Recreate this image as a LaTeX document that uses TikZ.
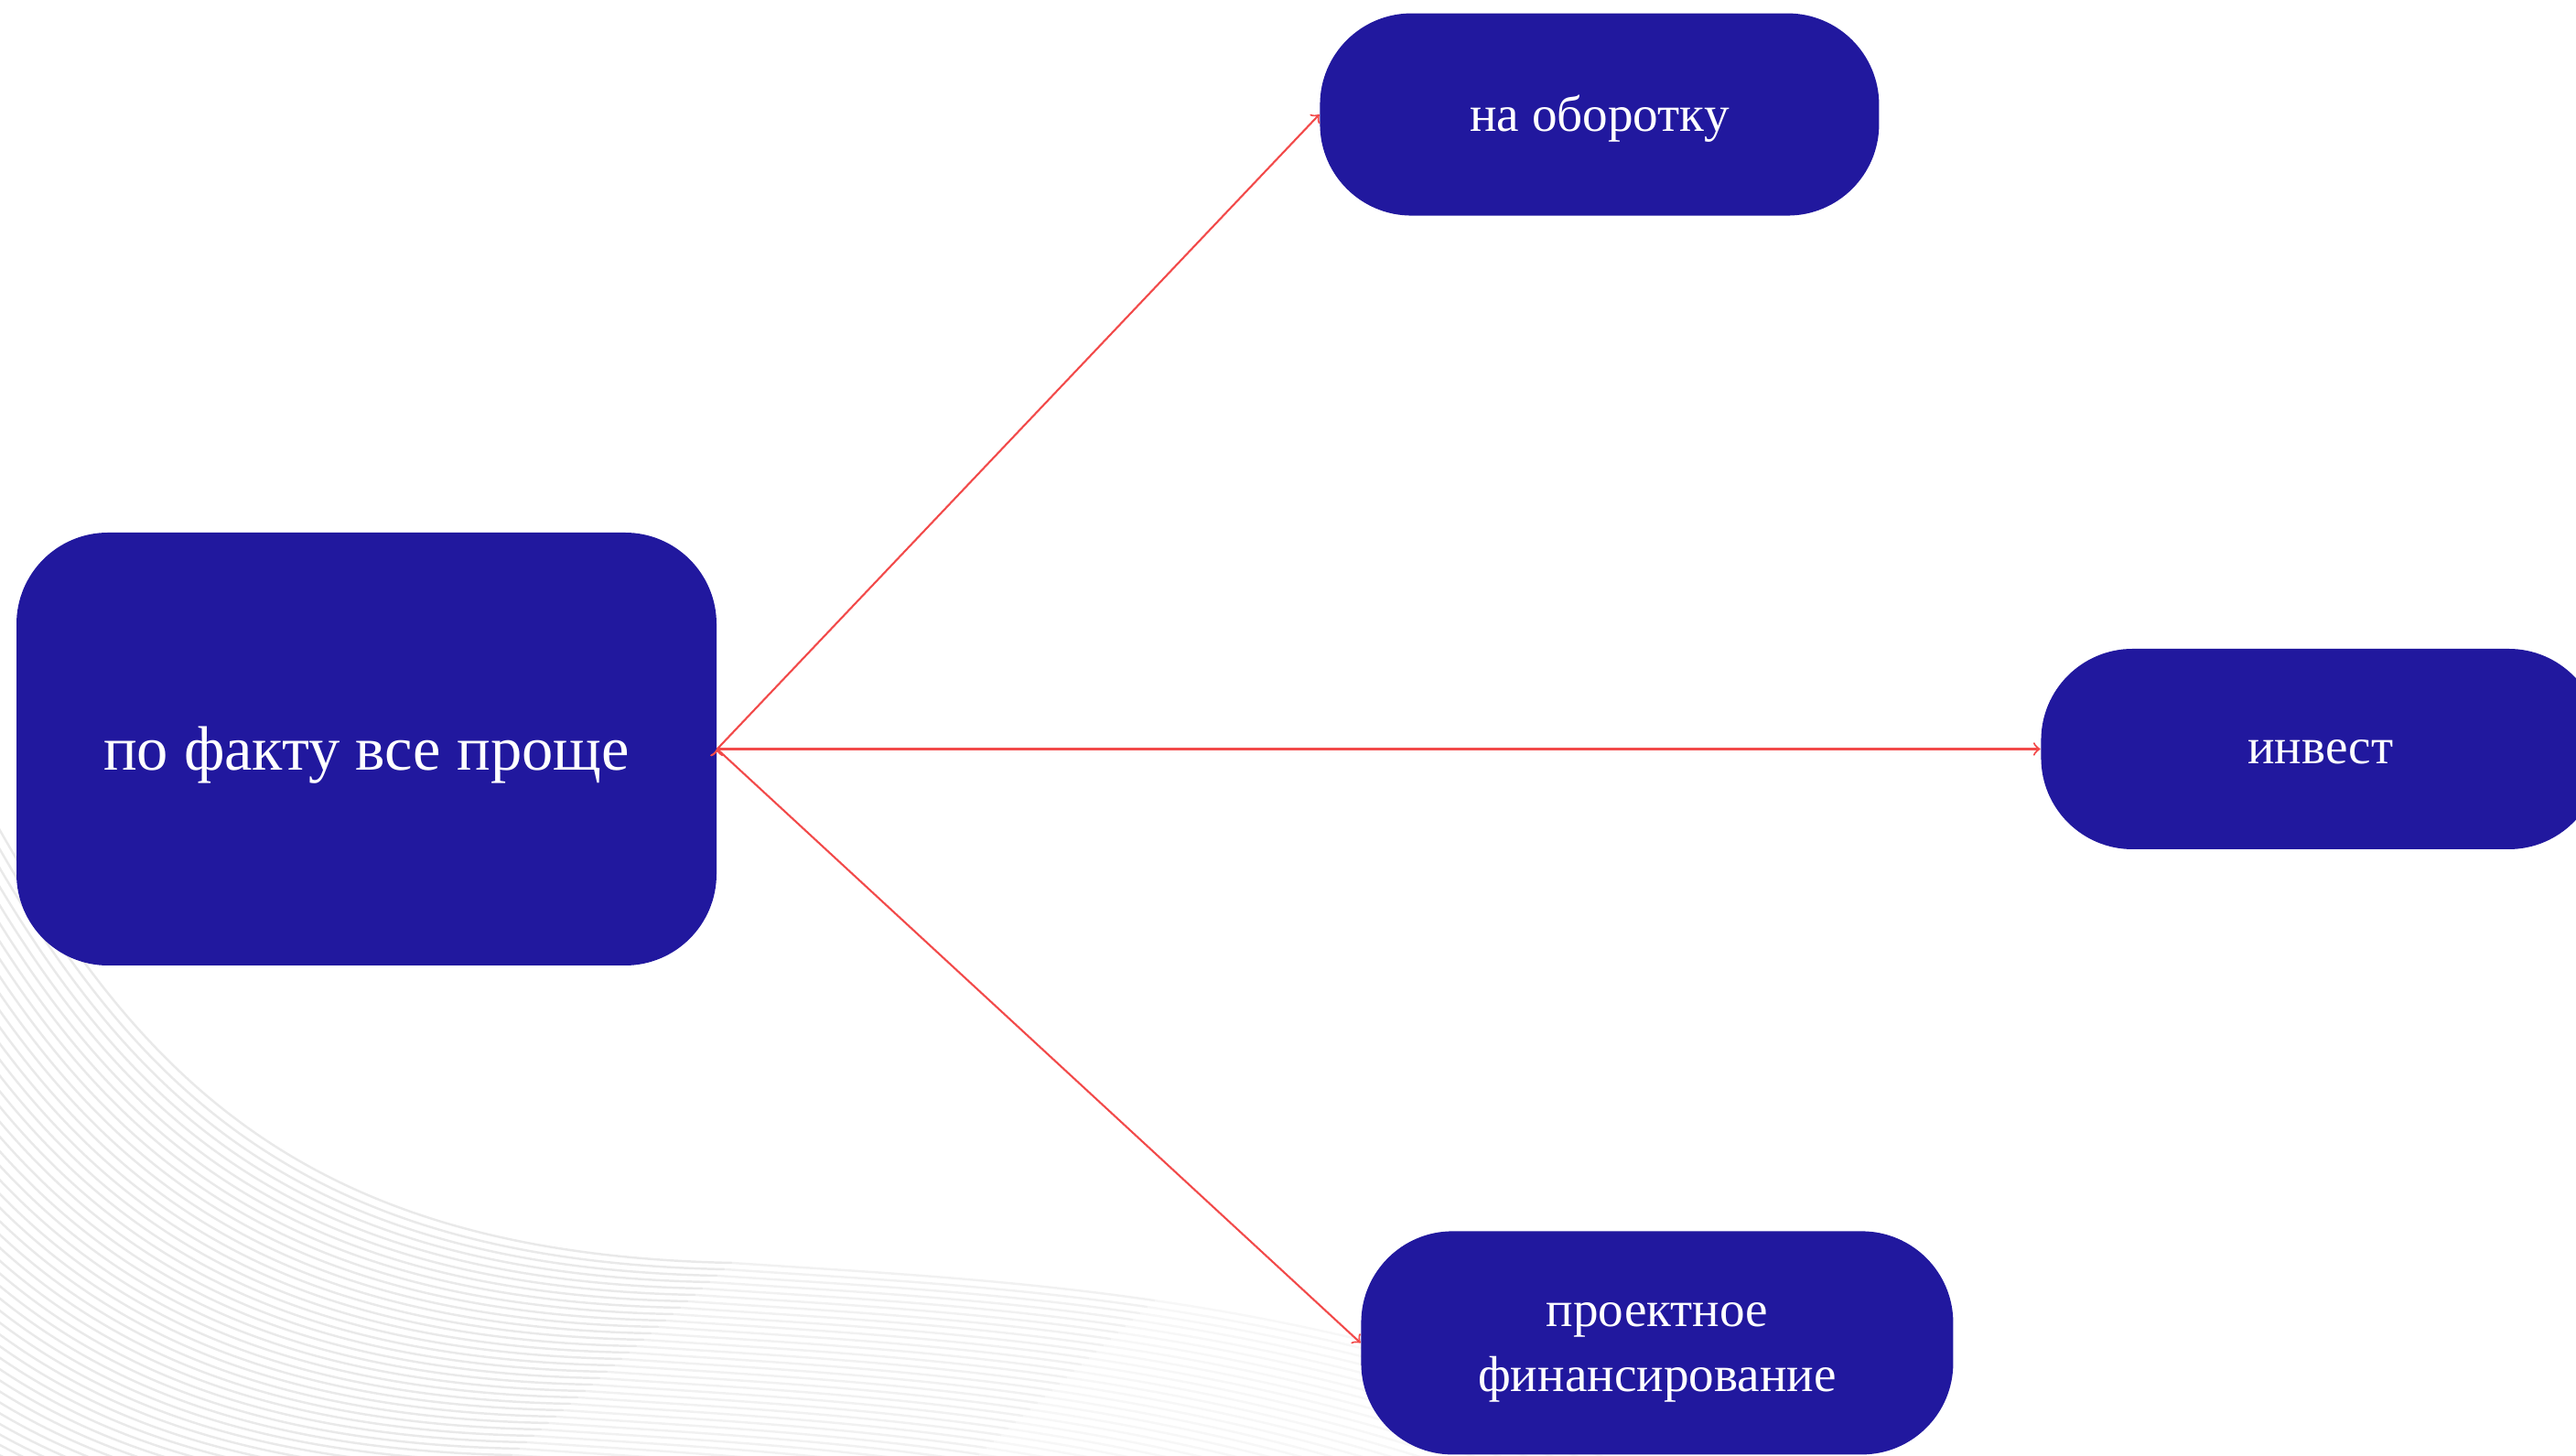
\documentclass[tikz,border=0pt]{standalone}
\usepackage{fontspec}
\setmainfont{Liberation Serif}
\usetikzlibrary{shapes,arrows,positioning,fit}
\definecolor{boxblue}{HTML}{21189E}
\definecolor{arrowred}{HTML}{F24A4A}
\def \rc {1cm}

\begin{document}
\begin{tikzpicture}[auto,node distance=1cm,
    box/.style={rectangle,rounded corners=\rc,fill=boxblue,text=white,align=center,inner sep=0pt,
      font=\fontsize{15.7}{20.2}\selectfont},
    lift/.style={execute at begin node={\rule{0pt}{#1}}},
    wave/.style={line width=0.7pt}]
  \useasboundingbox (0,0) rectangle (28.15,15.91);
  % background lines
  \foreach \i in {0,...,55} {
    \begin{scope}[shift={(-0.08*\i,-0.07*\i)}]
      \draw[wave,gray!17] (-0.6,7.96) .. controls (1.2,4.41) and (3.0,2.21) .. (8.0,2.11);
      \draw[wave,gray!11] (8.0,2.11) .. controls (9.5,2.01) and (11.0,1.935) .. (12.625,1.698);
      \draw[wave,gray!6] (12.625,1.698) .. controls (14.25,1.46) and (16.0,1.06) .. (18.0,0.31);
    \end{scope}
  }
  \node[box,lift=0.9em,minimum width=7.65cm,minimum height=4.73cm,font=\fontsize{19.5}{24}\selectfont] (P) at (4.005,7.725) {по факту все проще};
  \node[box,lift=0.9em,minimum width=6.11cm,minimum height=2.21cm,above right=3.45cm and 6.58cm of P] (O) {на оборотку};
  \node[box,lift=0.6em,minimum width=6.11cm,minimum height=2.19cm,right=14.46cm of P] (I) {инвест};
  \node[box,lift=2.15em,minimum width=6.47cm,minimum height=2.44cm,below right=2.89cm and 7.03cm of P] (F) {проектное\\финансирование};
  \path[->,draw=arrowred,line width=0.6pt] (P.east) edge (O.west);
  \path[->,draw=arrowred,line width=0.6pt] (P.east) edge (I.west);
  \path[->,draw=arrowred,line width=0.6pt] (P.east) edge (F.west);
\end{tikzpicture}
\end{document}
